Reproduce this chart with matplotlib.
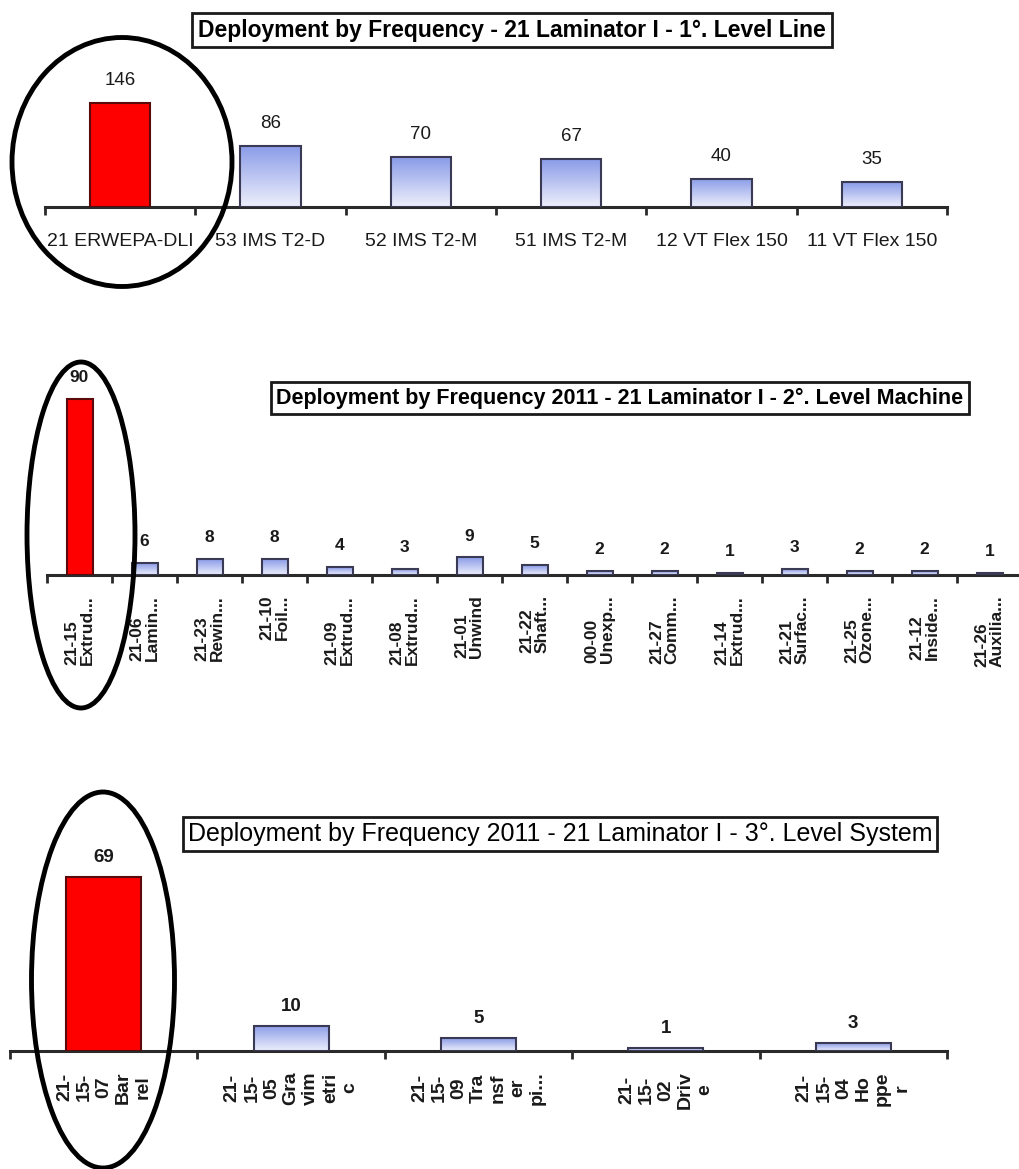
import numpy as np
import matplotlib
matplotlib.use("Agg")
import matplotlib.pyplot as plt
from matplotlib.patches import Ellipse
from matplotlib.colors import LinearSegmentedColormap

plt.rcParams['font.family'] = ['Liberation Sans', 'DejaVu Sans']

# ---- data -------------------------------------------------------------
line_labels = ["21 ERWEPA-DLI", "53 IMS T2-D", "52 IMS T2-M", "51 IMS T2-M",
               "12 VT Flex 150", "11 VT Flex 150"]
line_values = [146, 86, 70, 67, 40, 35]

machine_labels = ["21-15\nExtrud...", "21-06\nLamin...", "21-23\nRewin...",
                  "21-10\nFoil...", "21-09\nExtrud...", "21-08\nExtrud...",
                  "21-01\nUnwind", "21-22\nShaft...", "00-00\nUnexp...",
                  "21-27\nComm...", "21-14\nExtrud...", "21-21\nSurfac...",
                  "21-25\nOzone...", "21-12\nInside...", "21-26\nAuxilia..."]
machine_values = [90, 6, 8, 8, 4, 3, 9, 5, 2, 2, 1, 3, 2, 2, 1]

system_labels = ["21-\n15-\n07\nBar\nrel",
                 "21-\n15-\n05\nGra\nvim\netri\nc",
                 "21-\n15-\n09\nTra\nnsf\ner\npi...",
                 "21-\n15-\n02\nDriv\ne",
                 "21-\n15-\n04\nHo\nppe\nr"]
system_values = [69, 10, 5, 1, 3]

titles = ["Deployment by Frequency - 21 Laminator I - 1°. Level Line",
          "Deployment by Frequency 2011 - 21 Laminator I - 2°. Level Machine",
          "Deployment by Frequency 2011 - 21 Laminator I - 3°. Level System"]

# ---- figure -----------------------------------------------------------
W, H = 1019, 1169
DPI = 100
fig = plt.figure(figsize=(W / DPI, H / DPI), dpi=DPI)
fig.patch.set_facecolor("white")

grad_cmap = LinearSegmentedColormap.from_list("bluegrad", ["#eef0fb", "#8a9be8"])
grad = np.linspace(0, 1, 256).reshape(-1, 1)


def px_axes(x0, x1, base_y, height_px):
    """Axes placed by pixel coordinates (top-left origin)."""
    return fig.add_axes([x0 / W, 1 - base_y / H, (x1 - x0) / W, height_px / H])


def draw_panel(ax, labels, values, ymax, value_kw, label_kw, pad_px, val_off):
    n = len(values)
    x = np.arange(n)
    width = 0.4
    for i, v in enumerate(values):
        if i == 0:
            ax.bar(x[i], v, width, color="#ff0000", edgecolor="#5a0a0a",
                   linewidth=1.5, zorder=3)
        else:
            bars = ax.bar(x[i], v, width, facecolor="none",
                          edgecolor="#3a3a55", linewidth=1.5, zorder=4)
            im = ax.imshow(grad, cmap=grad_cmap, origin="lower", aspect="auto",
                           extent=(x[i] - width / 2, x[i] + width / 2, 0, v),
                           zorder=3)
            im.set_clip_path(bars[0])
        ax.annotate(str(v), (x[i], v), xytext=(0, val_off),
                    textcoords="offset points", ha="center", va="bottom",
                    color="#1a1a1a", **value_kw)
    ax.set_xlim(-0.5, n - 0.5)
    ax.set_ylim(0, ymax)
    for s in ["top", "right", "left"]:
        ax.spines[s].set_visible(False)
    ax.spines["bottom"].set_linewidth(2.2)
    ax.spines["bottom"].set_color("#2a2a2a")
    ax.set_yticks([])
    ax.set_xticks(x)
    ax.set_xticklabels(labels, **label_kw)
    ax.set_xticks(np.arange(n + 1) - 0.5, minor=True)
    ax.tick_params(axis="x", which="major", length=0, pad=pad_px * 0.72,
                   colors="#1a1a1a")
    ax.tick_params(axis="x", which="minor", length=6, width=2, color="#2a2a2a",
                   direction="out")
    ax.set_facecolor("none")


# Panel 1: level line
ax1 = px_axes(45, 947, 207, 160 * 0.712)
draw_panel(ax1, line_labels, line_values, 160,
           dict(fontsize=13.5),
           dict(fontsize=14),
           26, 10)

# Panel 2: level machine
ax2 = px_axes(47, 1022, 575, 100 * 1.956)
draw_panel(ax2, machine_labels, machine_values, 100,
           dict(fontsize=12.5, fontweight="bold"),
           dict(fontsize=12.5, fontweight="bold", rotation=90, va="top",
                ha="center", multialignment="left", linespacing=1.0),
           20, 10)

# Panel 3: level system
ax3 = px_axes(10, 947, 1051, 80 * 2.52)
draw_panel(ax3, system_labels, system_values, 80,
           dict(fontsize=13.5, fontweight="bold"),
           dict(fontsize=14, fontweight="bold", rotation=90, va="top",
                ha="center", multialignment="center", linespacing=1.2),
           20, 8)

# Boxed titles
def title_box(pad):
    return dict(boxstyle=f"square,pad={pad}", facecolor="white",
                edgecolor="#1a1a1a", linewidth=2)


fig.text(512 / W, 1 - 30 / H, titles[0], ha="center", va="center",
         fontsize=16.5, fontweight="bold", bbox=title_box(0.25))
fig.text(620 / W, 1 - 398 / H, titles[1], ha="center", va="center",
         fontsize=15.5, fontweight="bold", bbox=title_box(0.25))
fig.text(560 / W, 1 - 834 / H, titles[2], ha="center", va="center",
         fontsize=18, bbox=title_box(0.2))

# Highlight ellipses around the leading category of each panel
for cx, cy, ew, eh in [(122, 162, 220, 249), (81, 535, 108, 346),
                       (103, 980, 143, 376)]:
    e = Ellipse((cx / W, 1 - cy / H), ew / W, eh / H, transform=fig.transFigure,
                facecolor="none", edgecolor="black", linewidth=3.5, zorder=10)
    fig.patches.append(e)

fig.savefig("out.png", dpi=DPI, facecolor="white")
